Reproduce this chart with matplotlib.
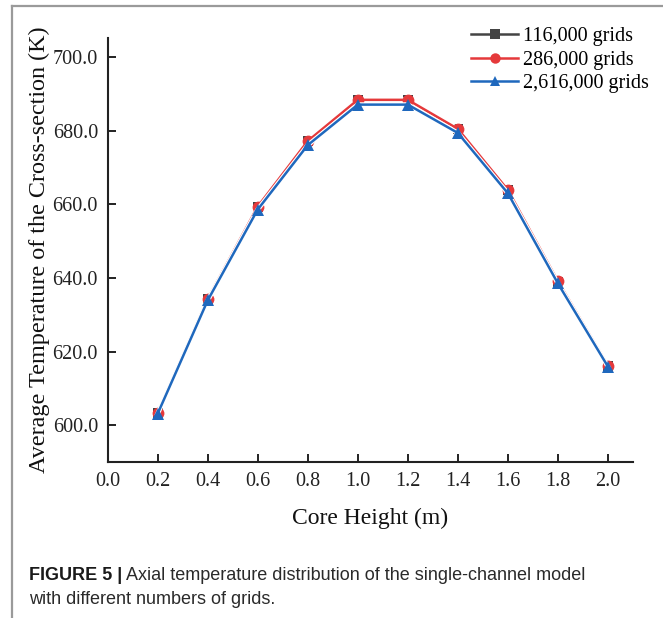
import matplotlib
matplotlib.use("Agg")
import matplotlib.pyplot as plt
import matplotlib.patheffects as pe
from matplotlib.lines import Line2D

heights = [0.2, 0.4, 0.6, 0.8, 1.0, 1.2, 1.4, 1.6, 1.8, 2.0]
t_116k = [603.4, 634.2, 659.3, 677.1, 688.3, 688.3, 680.4, 663.8, 639.0, 616.1]
t_286k = [603.4, 634.3, 659.4, 677.2, 688.4, 688.4, 680.5, 663.9, 639.1, 616.2]
t_2616k = [603.1, 633.9, 658.6, 676.1, 687.1, 687.1, 679.4, 663.0, 638.5, 615.9]
labels = ["116,000 grids", "286,000 grids", "2,616,000 grids"]
xticks = [0.0, 0.2, 0.4, 0.6, 0.8, 1.0, 1.2, 1.4, 1.6, 1.8, 2.0]
yticks = [600, 620, 640, 660, 680, 700]

W, H = 663, 618
fig = plt.figure(figsize=(W / 100, H / 100), dpi=100)
ax = fig.add_axes([107.6 / W, 1 - 462 / H, (633 - 107.6) / W, (462 - 38) / H])

serif = "Liberation Serif"
outline = [pe.Stroke(linewidth=3.4, foreground="white"), pe.Normal()]

specs = [
    (t_116k, "#444444", "s", 6.5),
    (t_286k, "#e5393b", "o", 8.5),
    (t_2616k, "#1f68bd", "^", 8.0),
]
handles = []
for z, ((vals, col, mk, ms), lab) in enumerate(zip(specs, labels)):
    ax.plot(heights, vals, color=col, lw=1.8, path_effects=outline, zorder=2 + z)
    ax.plot(heights, vals, color=col, lw=0, marker=mk, markersize=ms,
            markeredgewidth=0, zorder=2 + z)
    handles.append(Line2D([], [], color=col, lw=1.8, marker=mk, markersize=7.5,
                          markeredgewidth=0, label=lab))

ax.set_xlim(0, 2.1)
ax.set_ylim(590, 705.2)
ax.set_xticks(xticks)
ax.set_xticklabels([f"{v:.1f}" for v in xticks])
ax.set_yticks(yticks)
ax.set_yticklabels([f"{v:.1f}" for v in yticks])

for side in ["top", "right"]:
    ax.spines[side].set_visible(False)
for side in ["left", "bottom"]:
    ax.spines[side].set_linewidth(1.5)
    ax.spines[side].set_color("#222222")

ax.tick_params(direction="in", length=6, width=1.4, color="#222222",
               labelsize=14.5, pad=7)
for lbl in ax.get_xticklabels() + ax.get_yticklabels():
    lbl.set_fontfamily(serif)
    lbl.set_color("#222222")

ax.set_xlabel("Core Height (m)", fontsize=17, family=serif, color="#111111", labelpad=12)
ax.set_ylabel("Average Temperature of the Cross-section (K)", fontsize=17.4,
              family=serif, color="#111111", labelpad=2)

leg = ax.legend(handles=handles, loc="upper right", bbox_to_anchor=(1.045, 1.045),
                frameon=False, prop={"family": serif, "size": 14.5}, handlelength=2.3,
                handletextpad=0.25, labelspacing=0.22, borderaxespad=0.0)

# figure frame lines (gray border on left and top)
fig.add_artist(Line2D([12 / W, 12 / W], [0, 1 - 6 / H], transform=fig.transFigure,
                      color="#9a9a9a", lw=1.6))
fig.add_artist(Line2D([12 / W, 1], [1 - 6 / H, 1 - 6 / H], transform=fig.transFigure,
                      color="#9a9a9a", lw=1.6))

# caption
sans = "Liberation Sans"
t1 = fig.text(28.7 / W, 1 - 575 / H, "FIGURE 5 |", fontsize=13, family=sans,
              weight="bold", va="center", ha="left", color="#1a1a1a")
fig.canvas.draw()
bb = t1.get_window_extent()
fig.text((bb.x1 + 4) / W, 1 - 575 / H,
         "Axial temperature distribution of the single-channel model",
         fontsize=13, family=sans, va="center", ha="left", color="#2a2a2a")
fig.text(28.7 / W, 1 - 600 / H, "with different numbers of grids.", fontsize=13,
         family=sans, va="center", ha="left", color="#2a2a2a")

fig.savefig("out.png", dpi=100)
